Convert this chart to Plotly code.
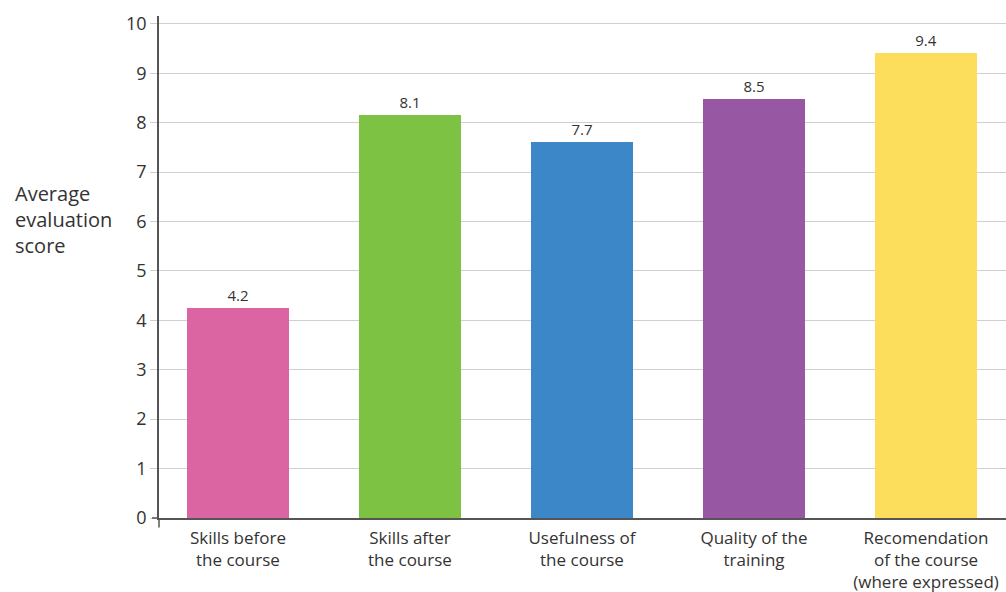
import plotly.graph_objects as go

categories = ["Skills before<br>the course", "Skills after<br>the course", "Usefulness of<br>the course",
              "Quality of the<br>training", "Recomendation<br>of the course<br>(where expressed)"]
values = [4.25, 8.16, 7.62, 8.48, 9.42]
value_labels = ["4.2", "8.1", "7.7", "8.5", "9.4"]
colors = ["#DB64A3", "#7DC243", "#3B87C8", "#9757A3", "#FDDD5C"]
y_ticks = [0, 1, 2, 3, 4, 5, 6, 7, 8, 9, 10]

FONT = "Open Sans"
TXT = "#333333"

W, H = 1006, 592
L, R, T, B = 159, 0, 16, 73.5
ph = H - T - B
pw = W - L - R

fig = go.Figure(go.Bar(
    x=list(range(len(categories))), y=values,
    marker=dict(color=colors, line=dict(width=0)),
    width=0.593,
    text=value_labels, textposition="outside", cliponaxis=False,
    textfont=dict(size=15, color=TXT, family=FONT),
))

fig.update_layout(
    width=W, height=H,
    margin=dict(l=L, r=R, t=T, b=B, pad=0),
    plot_bgcolor="white", paper_bgcolor="white",
    showlegend=False,
    font=dict(family=FONT, color=TXT),
    bargap=0,
    xaxis=dict(
        range=[-0.459, 4.465],
        tickmode="array", tickvals=list(range(len(categories))), ticktext=categories,
        tickfont=dict(size=17, color=TXT, family=FONT),
        showgrid=False, zeroline=False,
        showline=True, linecolor="#555555", linewidth=1.5,
        ticks="outside", ticklen=4, tickcolor="rgba(0,0,0,0)",
    ),
    yaxis=dict(
        range=[0, 10.16],
        tickmode="array", tickvals=y_ticks,
        tickfont=dict(size=18, color=TXT, family=FONT),
        showgrid=True, gridcolor="#cfcfcf", gridwidth=1.3,
        zeroline=False,
        showline=True, linecolor="#555555", linewidth=1.5,
        ticks="outside", ticklen=7, tickcolor="#cfcfcf", tickwidth=1.3,
    ),
)

# axis line extension below zero and dark zero tick
fig.add_shape(type="line", xref="paper", yref="paper",
              x0=0, x1=0, y0=0, y1=-9.5 / ph,
              line=dict(color="#555555", width=1.5))
fig.add_shape(type="line", xref="paper", yref="paper",
              x0=-7 / pw, x1=0, y0=0, y1=0,
              line=dict(color="#555555", width=1.5))

fig.add_annotation(
    text="Average<br>evaluation<br>score",
    xref="paper", yref="paper", x=-146 / pw, y=(518.5 - 220) / ph,
    xanchor="left", yanchor="middle", align="left", showarrow=False,
    font=dict(size=20, color=TXT, family=FONT),
)

fig.write_html(
    "out.html",
    config={"displayModeBar": False},
    post_script="document.body.style.margin='0';document.body.style.overflow='hidden';"
                "document.documentElement.style.overflow='hidden';",
)
